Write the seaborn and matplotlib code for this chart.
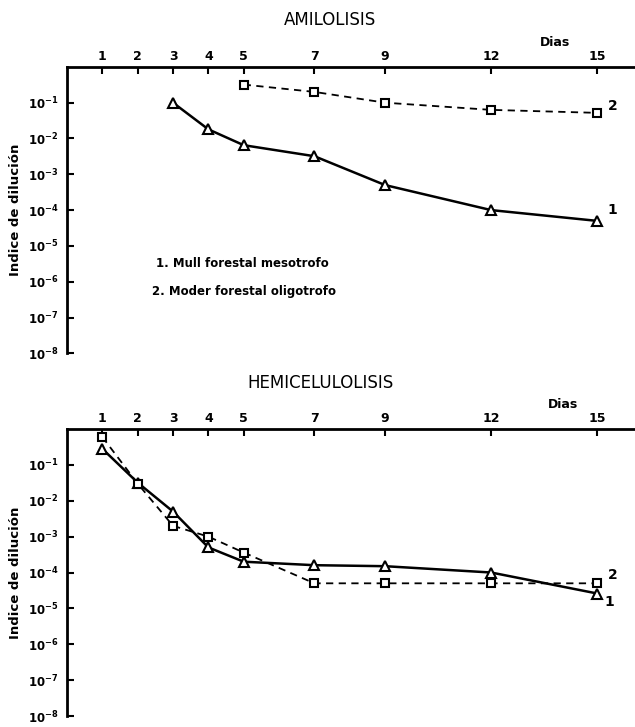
import numpy as np
import pandas as pd
import matplotlib
matplotlib.use("Agg")
import matplotlib.pyplot as plt
import seaborn as sns
from matplotlib.ticker import FixedLocator, LogFormatterMathtext, NullLocator

# Datos (índice de dilución vs días)
dias_tick = [1, 2, 3, 4, 5, 7, 9, 12, 15]

amil_dias_1 = [3, 4, 5, 7, 9, 12, 15]
amil_val_1 = [1e-1, 1.8e-2, 6.5e-3, 3.2e-3, 5e-4, 1e-4, 5e-5]
amil_dias_2 = [5, 7, 9, 12, 15]
amil_val_2 = [0.32, 0.2, 0.1, 0.063, 0.052]

hemi_dias_1 = [1, 2, 3, 4, 5, 7, 9, 12, 15]
hemi_val_1 = [0.28, 0.032, 5e-3, 5e-4, 2e-4, 1.6e-4, 1.5e-4, 1e-4, 2.6e-5]
hemi_dias_2 = [1, 2, 3, 4, 5, 7, 9, 12, 15]
hemi_val_2 = [0.6, 0.03, 2e-3, 1e-3, 3.6e-4, 5e-5, 5e-5, 5e-5, 5e-5]

decadas = [1e-1, 1e-2, 1e-3, 1e-4, 1e-5, 1e-6, 1e-7, 1e-8]

sns.set_style("white")
plt.rcParams["font.family"] = ["DejaVu Sans"]
plt.rcParams["text.color"] = "black"
plt.rcParams["axes.labelcolor"] = "black"
plt.rcParams["xtick.color"] = "black"
plt.rcParams["ytick.color"] = "black"

fig = plt.figure(figsize=(6.35, 7.27), dpi=100)

ax1 = fig.add_axes([0.1055, 0.514, 0.8945, 0.394])
ax2 = fig.add_axes([0.1055, 0.0151, 0.8945, 0.3948])


def panel(ax, d1, v1, d2, v2):
    df1 = pd.DataFrame({"dia": d1, "val": v1})
    df2 = pd.DataFrame({"dia": d2, "val": v2})
    sns.lineplot(data=df1, x="dia", y="val", ax=ax, color="black", lw=1.8,
                 marker="^", markersize=7, markerfacecolor="white",
                 markeredgecolor="black", markeredgewidth=1.5)
    sns.lineplot(data=df2, x="dia", y="val", ax=ax, color="black", lw=1.3,
                 linestyle=(0, (4, 3)), marker="s", markersize=6,
                 markerfacecolor="white", markeredgecolor="black",
                 markeredgewidth=1.5)
    ax.set_yscale("log")
    ax.set_ylim(1e-8, 1)
    ax.set_xlim(0, 16.07)
    ax.xaxis.tick_top()
    ax.set_xticks(dias_tick)
    ax.set_xticklabels([str(d) for d in dias_tick], fontweight="bold", fontsize=9)
    ax.yaxis.set_major_locator(FixedLocator(decadas))
    ax.yaxis.set_minor_locator(NullLocator())
    ax.yaxis.set_major_formatter(LogFormatterMathtext())
    ax.tick_params(axis="x", direction="in", length=5, width=1.5, pad=3,
                   top=True, bottom=False)
    ax.tick_params(axis="y", direction="in", length=5, width=1.5, pad=6,
                   labelsize=8.5, left=True)
    for lab in ax.get_yticklabels():
        lab.set_fontweight("bold")
    for s in ["right", "bottom"]:
        ax.spines[s].set_visible(False)
    for s in ["left", "top"]:
        ax.spines[s].set_linewidth(2)
        ax.spines[s].set_color("black")
    ax.set_xlabel("")
    ax.set_ylabel("Indice de dilución", fontweight="bold", fontsize=9.5,
                  labelpad=4)
    ax.patch.set_alpha(0)


panel(ax1, amil_dias_1, amil_val_1, amil_dias_2, amil_val_2)
panel(ax2, hemi_dias_1, hemi_val_1, hemi_dias_2, hemi_val_2)

# etiquetas de las series
ax1.text(15.3, amil_val_1[-1] * 1.6, "1", fontsize=10, fontweight="bold")
ax1.text(15.3, amil_val_2[-1] * 1.2, "2", fontsize=10, fontweight="bold")
ax2.text(15.3, hemi_val_2[-1] * 1.3, "2", fontsize=10, fontweight="bold")
ax2.text(15.2, hemi_val_1[-1] * 0.45, "1", fontsize=10, fontweight="bold")

ax1.text(0.157, 0.3125, "1. Mull forestal mesotrofo", transform=ax1.transAxes,
         fontsize=8.5, fontweight="bold", va="center")
ax1.text(0.150, 0.215, "2. Moder forestal oligotrofo", transform=ax1.transAxes,
         fontsize=8.5, fontweight="bold", va="center")

fig.text(0.52, 1 - 20 / 727, "AMILOLISIS", ha="center", va="center", fontsize=12)
fig.text(0.505, 1 - 383 / 727, "HEMICELULOLISIS", ha="center", va="center",
         fontsize=12)
fig.text(555 / 635, 1 - 42 / 727, "Dias", ha="center", va="center",
         fontsize=9, fontweight="bold")
fig.text(563 / 635, 1 - 405 / 727, "Dias", ha="center", va="center",
         fontsize=9, fontweight="bold")

fig.savefig("out.png", dpi=100)
